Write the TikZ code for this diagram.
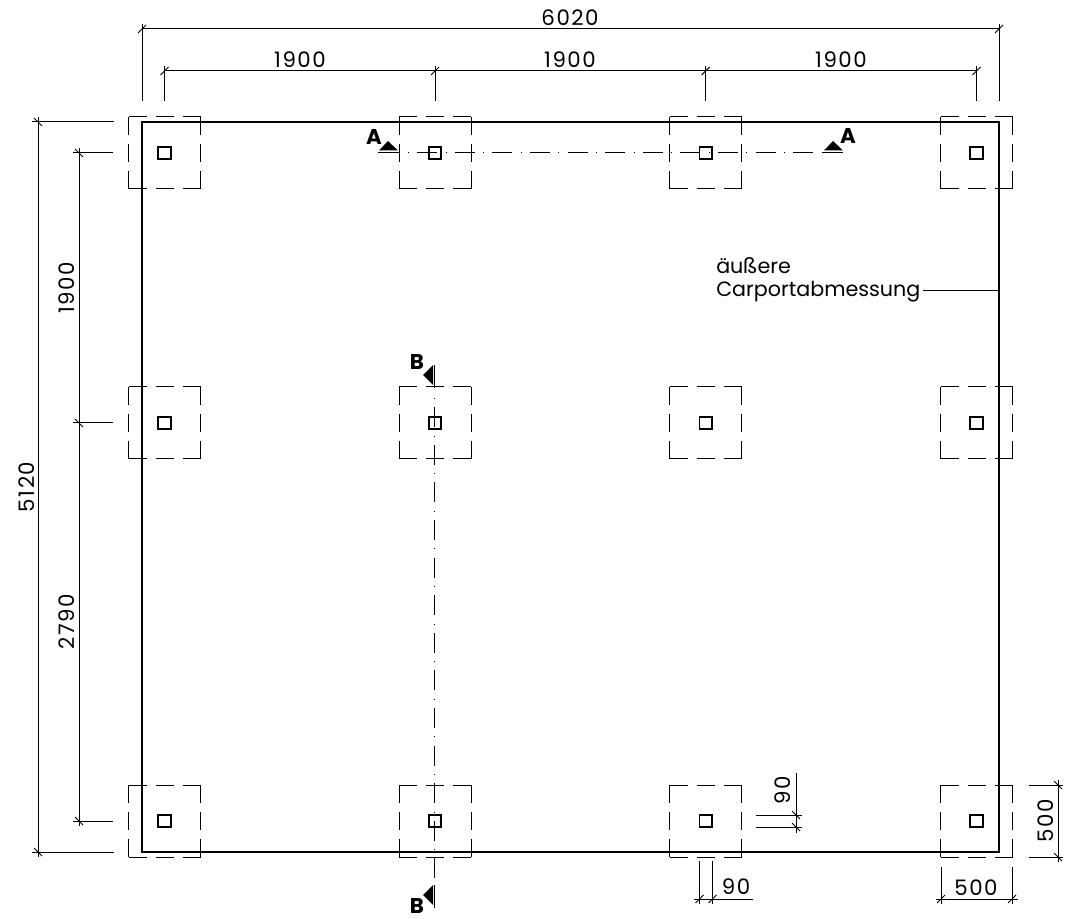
\documentclass[tikz,border=0pt]{standalone}
\usepackage{fontspec}
\setmainfont{Poppins}
\usepackage{tikz}

\tikzset{
  thinline/.style={black, line width=0.75pt},
  outline/.style={black, line width=1.5pt},
  footing/.style={black, line width=0.75pt, dash pattern=on 13.5pt off 6.75pt},
  post/.style={black, line width=1.4pt},
  cutline/.style={black, line width=0.75pt, dash pattern=on 0.6pt off 6.3pt on 15pt off 6.3pt},
  dimtext/.style={inner sep=0pt, font=\fontsize{16}{16}\selectfont\addfontfeature{LetterSpace=7}},
  notetext/.style={inner sep=0pt, font=\fontsize{15.5}{15.5}\selectfont},
  cuttext/.style={inner sep=0pt, font=\fontsize{16}{16}\selectfont\bfseries}
}

\begin{document}
\begin{tikzpicture}[x=0.75pt, y=-0.75pt]
\useasboundingbox (0,0) rectangle (1075,919);

% footings and posts
\foreach \px in {164.5,435,705.7,976.5} {
  \foreach \py in {153,423,821} {
    \draw [footing] (\px-36,\py-36) -- (\px+36,\py-36);
    \draw [footing] (\px-36,\py+36) -- (\px+36,\py+36);
    \draw [footing] (\px-36,\py-36) -- (\px-36,\py+36);
    \draw [footing] (\px+36,\py-36) -- (\px+36,\py+36);
    \draw [post] (\px-6.2,\py-6.2) rectangle (\px+6.2,\py+6.2);
  }
}

% outer edge
\draw [outline] (142,122) rectangle (999,852);

% top dimensions
\draw [thinline] (142,29) -- (999,29);
\draw [thinline] (142,24) -- (142,101);
\draw [thinline] (999,24) -- (999,101);
\draw [thinline] (164.5,71) -- (976.5,71);
\foreach \px in {164.5,435,705.7,976.5} {
  \draw [thinline] (\px,66) -- (\px,101);
  \draw [thinline] (\px-4,75) -- (\px+4,67);
}
\draw [thinline] (138,33) -- (146,25);
\draw [thinline] (995,33) -- (1003,25);

% left dimensions
\draw [thinline] (38,117) -- (38,857);
\draw [thinline] (32,122) -- (114,122);
\draw [thinline] (32,852) -- (114,852);
\draw [thinline] (34,118) -- (42,126);
\draw [thinline] (34,848) -- (42,856);
\draw [thinline] (79,148) -- (79,826);
\foreach \py in {153,423,821} {
  \draw [thinline] (73,\py) -- (113,\py);
  \draw [thinline] (75,\py-4) -- (83,\py+4);
}

% small dimensions
\draw [thinline] (796,773) -- (796,833);
\draw [thinline] (756,815) -- (802,815);
\draw [thinline] (756,827) -- (802,827);
\draw [thinline] (792,811) -- (800,819);
\draw [thinline] (792,823) -- (800,831);
\draw [thinline] (694,899) -- (753,899);
\draw [thinline] (699.5,861) -- (699.5,904);
\draw [thinline] (712.5,861) -- (712.5,904);
\draw [thinline] (695.5,903) -- (703.5,895);
\draw [thinline] (708.5,903) -- (716.5,895);
\draw [thinline] (936,899) -- (1018,899);
\draw [thinline] (941,867) -- (941,904);
\draw [thinline] (1012,867) -- (1012,904);
\draw [thinline] (937,903) -- (945,895);
\draw [thinline] (1008,903) -- (1016,895);
\draw [thinline] (1058,780) -- (1058,862);
\draw [thinline] (1029,785) -- (1063,785);
\draw [thinline] (1029,857) -- (1063,857);
\draw [thinline] (1054,781) -- (1062,789);
\draw [thinline] (1054,853) -- (1062,861);

% section A-A
\draw [cutline] (408,153) -- (823,153);
\draw [thinline] (378,153) -- (399,153);
\draw [thinline] (823,153) -- (843,153);
\fill (379,150.5) -- (388,141) -- (398,150.5) -- cycle;
\fill (824,150.5) -- (833,141) -- (843,150.5) -- cycle;

% section B-B
\draw [cutline] (434.5,398) -- (434.5,885);
\draw [thinline] (434.5,365) -- (434.5,388);
\draw [thinline] (434.5,885) -- (434.5,908);
\fill (433,365) -- (423,375) -- (433,385) -- cycle;
\fill (433,885) -- (423,895) -- (433,905) -- cycle;

% leader
\coordinate (leaderend) at (999,291);
\node [notetext, anchor=base west] (carport) at (716,296.5) {Carportabmessung};
\node [notetext, anchor=base west] (aeussere) at (716,273.5) {äußere};
\draw [thinline] (923,291) -- (leaderend);

% labels
\node [dimtext] (total) at (570,17.5) {6020};
\node [dimtext] (bayone) at (300,59.5) {1900};
\node [dimtext] (baytwo) at (570,59.5) {1900};
\node [dimtext] (baythree) at (841,59.5) {1900};
\node [dimtext, rotate=90] (depth) at (27,487) {5120};
\node [dimtext, rotate=90] (rowone) at (67,288) {1900};
\node [dimtext, rotate=90] (rowtwo) at (67,622) {2790};
\node [dimtext, rotate=90] (postv) at (783,790) {90};
\node [dimtext] (posth) at (736,886.5) {90};
\node [dimtext] (footh) at (976,887.5) {500};
\node [dimtext, rotate=90] (footv) at (1046,821) {500};
\node [cuttext] (aleft) at (374,137) {A};
\node [cuttext] (aright) at (848,136) {A};
\node [cuttext] (btop) at (417,362) {B};
\node [cuttext] (bbottom) at (417,906) {B};
\end{tikzpicture}
\end{document}
